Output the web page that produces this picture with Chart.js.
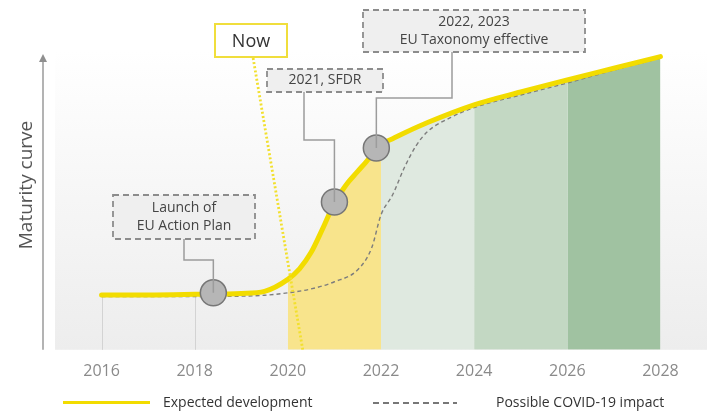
<!DOCTYPE html>
<html><head><meta charset="utf-8">
<script src="https://cdn.jsdelivr.net/npm/chart.js@4/dist/chart.umd.min.js"></script>
<style>
html,body{margin:0;padding:0;background:#fff;}
#wrap{position:relative;width:709px;height:411px;overflow:hidden;}
#c{position:absolute;left:0;top:0;}
.lgtext{position:absolute;font-family:"Open Sans",sans-serif;font-size:14px;color:#333;line-height:18px;white-space:nowrap;}
.lgline{position:absolute;}
</style></head><body>
<div id="wrap"><canvas id="c" width="709" height="411"></canvas>
<div class="lgline" id="lg1line" style="left:63px;top:401px;width:87px;height:3px;background:#f2dc00;"></div>
<div class="lgtext" id="lg1" style="left:163px;top:393px;"></div>
<div class="lgline" id="lg2line" style="left:373px;top:402px;width:84px;height:1.5px;background:repeating-linear-gradient(90deg,#777 0 6px,transparent 6px 10px);"></div>
<div class="lgtext" id="lg2" style="left:496px;top:393px;"></div>
</div>
<script>
// ---------- data ----------
const seriesNames = ['Expected development', 'Possible COVID-19 impact'];
const expectedYears = [2016,2017,2018,2019,2019.5,2020,2020.25,2020.5,2020.75,2021,2021.25,2021.5,2021.75,2021.9,2022,2022.25,2022.5,2023,2024,2025,2026,2027,2028];
const expectedValues = [18.3,18.3,18.5,18.8,19.5,23.5,27,32.5,40.5,49,55,59.5,64,67.3,68.6,70.4,72.3,75.8,81.7,86,90,93.9,97.8];
const covidYears = [2016,2017,2018,2019,2019.5,2020,2020.5,2021,2021.5,2021.8,2022,2022.25,2022.5,2022.75,2023,2023.5,2024,2025,2026,2027,2028];
const covidValues = [17.8,17.8,17.8,17.9,18.2,19,20.3,22.7,26.7,34,45,51.7,60.7,68,72.8,77.5,80.8,85,89,93.3,97.3];
const tickYears = [2016,2018,2020,2022,2024,2026,2028];
const tickLabels = ['2016','2018','2020','2022','2024','2026','2028'];
const phaseStarts = [2020,2022,2024,2026];
const phaseEnds = [2022,2024,2026,2028];
const dividerYears = [2016,2018];
const milestoneYears = [2018.4,2021,2021.9];
const milestoneValues = [19,49.3,67.3];
const milestoneLabels = [['Launch of','EU Action Plan'],['2021, SFDR'],['2022, 2023','EU Taxonomy effective']];
const nowYears = [2020.32,2019.25];
const nowValues = [0,97.7];
const nowLabel = 'Now';
const yTitle = 'Maturity curve';

// ---------- styles / layout ----------
const phaseColors = ['#f8e48c','#dfe9e0','#c3d8c3','#a0c2a1'];
const YELLOW = '#f2dc00';
const boxLayout = [
  {x:113,y:195,w:142,h:44, ax:184, elbowY:260},
  {x:267,y:69,w:116,h:23, ax:304, elbowY:140},
  {x:363,y:10,w:222,h:42, ax:452, elbowY:98}
];
const nowBox = {x:215,y:24,w:72,h:33};
const yTitlePos = {x:27, y:185};

document.getElementById('lg1').textContent = seriesNames[0];
document.getElementById('lg2').textContent = seriesNames[1];

const xy = (xs, ys) => xs.map((x,i)=>({x, y: ys[i]}));
const expectedAt = (yr) => expectedValues[expectedYears.indexOf(yr)];

const decor = {
  id:'decor',
  beforeDatasetsDraw(chart){
    const {ctx, chartArea:a, scales:{x,y}} = chart;
    ctx.save();
    const g = ctx.createLinearGradient(0,a.top,0,a.bottom);
    g.addColorStop(0,'#ffffff');
    g.addColorStop(1,'#ededed');
    ctx.fillStyle = g;
    ctx.fillRect(a.left,a.top,a.right-a.left,a.bottom-a.top);
    ctx.strokeStyle = '#d3d3d3'; ctx.lineWidth = 1;
    dividerYears.forEach(yr=>{
      const px = Math.round(x.getPixelForValue(yr))+0.5;
      ctx.beginPath();
      ctx.moveTo(px, y.getPixelForValue(expectedAt(yr)));
      ctx.lineTo(px, a.bottom);
      ctx.stroke();
    });
    const ax = a.left - 12;
    ctx.strokeStyle = '#9a9a9a'; ctx.lineWidth = 1.5;
    ctx.beginPath(); ctx.moveTo(ax, a.bottom); ctx.lineTo(ax, a.top+10); ctx.stroke();
    ctx.fillStyle = '#8f8f8f';
    ctx.beginPath(); ctx.moveTo(ax, a.top+4); ctx.lineTo(ax-4, a.top+12); ctx.lineTo(ax+4, a.top+12); ctx.closePath(); ctx.fill();
    ctx.translate(yTitlePos.x, yTitlePos.y);
    ctx.rotate(-Math.PI/2);
    ctx.fillStyle = '#555';
    ctx.font = '19px "Open Sans"';
    ctx.textAlign = 'center'; ctx.textBaseline = 'middle';
    ctx.fillText(yTitle, 0, 0);
    ctx.restore();
  },
  afterDatasetsDraw(chart){
    const {ctx, scales:{x,y}} = chart;
    ctx.save();
    ctx.strokeStyle = '#9c9c9c'; ctx.lineWidth = 1.5;
    boxLayout.forEach((b,i)=>{
      const cx = x.getPixelForValue(milestoneYears[i]);
      const cy = y.getPixelForValue(milestoneValues[i]);
      ctx.beginPath();
      ctx.moveTo(b.ax, b.y+b.h);
      ctx.lineTo(b.ax, b.elbowY);
      ctx.lineTo(cx, b.elbowY);
      ctx.lineTo(cx, cy);
      ctx.stroke();
    });
    boxLayout.forEach((b,i)=>{
      ctx.fillStyle = '#efefef';
      ctx.fillRect(b.x,b.y,b.w,b.h);
      ctx.setLineDash([6,4]);
      ctx.strokeStyle = '#8c8c8c'; ctx.lineWidth = 1.8;
      ctx.strokeRect(b.x,b.y,b.w,b.h);
      ctx.setLineDash([]);
      ctx.fillStyle = '#444';
      ctx.font = '14px "Open Sans"';
      ctx.textAlign = 'center'; ctx.textBaseline = 'middle';
      const lines = milestoneLabels[i];
      const lh = 18;
      const cy0 = b.y + b.h/2 - (lines.length-1)*lh/2;
      lines.forEach((t,k)=>ctx.fillText(t, b.x+b.w/2, cy0+k*lh));
    });
    ctx.fillStyle = '#ffffff';
    ctx.fillRect(nowBox.x,nowBox.y,nowBox.w,nowBox.h);
    ctx.strokeStyle = '#f0de3c'; ctx.lineWidth = 2;
    ctx.strokeRect(nowBox.x,nowBox.y,nowBox.w,nowBox.h);
    ctx.fillStyle = '#333';
    ctx.font = '18px "Open Sans"';
    ctx.textAlign = 'center'; ctx.textBaseline = 'middle';
    ctx.fillText(nowLabel, nowBox.x+nowBox.w/2, nowBox.y+nowBox.h/2+1);
    ctx.restore();
  }
};

const phaseColor = (ctx) => {
  const px = ctx.p0.parsed.x;
  for (let i=0;i<phaseStarts.length;i++){
    if (px >= phaseStarts[i] && px < phaseEnds[i]) return phaseColors[i];
  }
  return 'rgba(0,0,0,0)';
};

new Chart(document.getElementById('c'), {
  type:'line',
  data:{
    datasets:[
      {label:'milestones', type:'scatter', data: xy(milestoneYears, milestoneValues), pointRadius:13, pointHoverRadius:13,
       pointBackgroundColor:'#b6b6b6', pointBorderColor:'#767676', pointBorderWidth:1.5, showLine:false, order:0},
      {label:nowLabel, data: xy(nowYears, nowValues), borderColor:'#f2e02e', borderWidth:2.8, borderDash:[2,2.2],
       pointRadius:0, fill:false, order:1},
      {label:seriesNames[0], data: xy(expectedYears, expectedValues), borderColor:YELLOW, borderWidth:5,
       borderCapStyle:'round', cubicInterpolationMode:'monotone', pointRadius:0, fill:false, order:2},
      {label:seriesNames[1], data: xy(covidYears, covidValues), borderColor:'#7d7d7d', borderWidth:1.4, borderDash:[4,3],
       cubicInterpolationMode:'monotone', pointRadius:0, fill:false, order:3},
      {label:'phases', data: xy(expectedYears, expectedValues), borderWidth:0, borderColor:'rgba(0,0,0,0)',
       backgroundColor:'rgba(0,0,0,0)', cubicInterpolationMode:'monotone', pointRadius:0, fill:'origin',
       segment:{backgroundColor: phaseColor}, order:4}
    ]
  },
  options:{
    responsive:false, animation:false, events:[],
    layout:{autoPadding:false, padding:{left:55,right:2,top:50,bottom:18}},
    plugins:{legend:{display:false}, tooltip:{enabled:false}},
    scales:{
      x:{type:'linear', min:2015, max:2029,
         afterBuildTicks:(s)=>{ s.ticks = tickYears.map(v=>({value:v})); },
         ticks:{color:'#8a8a8a', font:{family:'Open Sans', size:16}, padding:12, callback:(v,i)=>tickLabels[i]},
         grid:{display:false, drawTicks:false}, border:{display:false}},
      y:{display:false, min:0, max:100}
    }
  },
  plugins:[decor]
});
</script>
</body></html>
